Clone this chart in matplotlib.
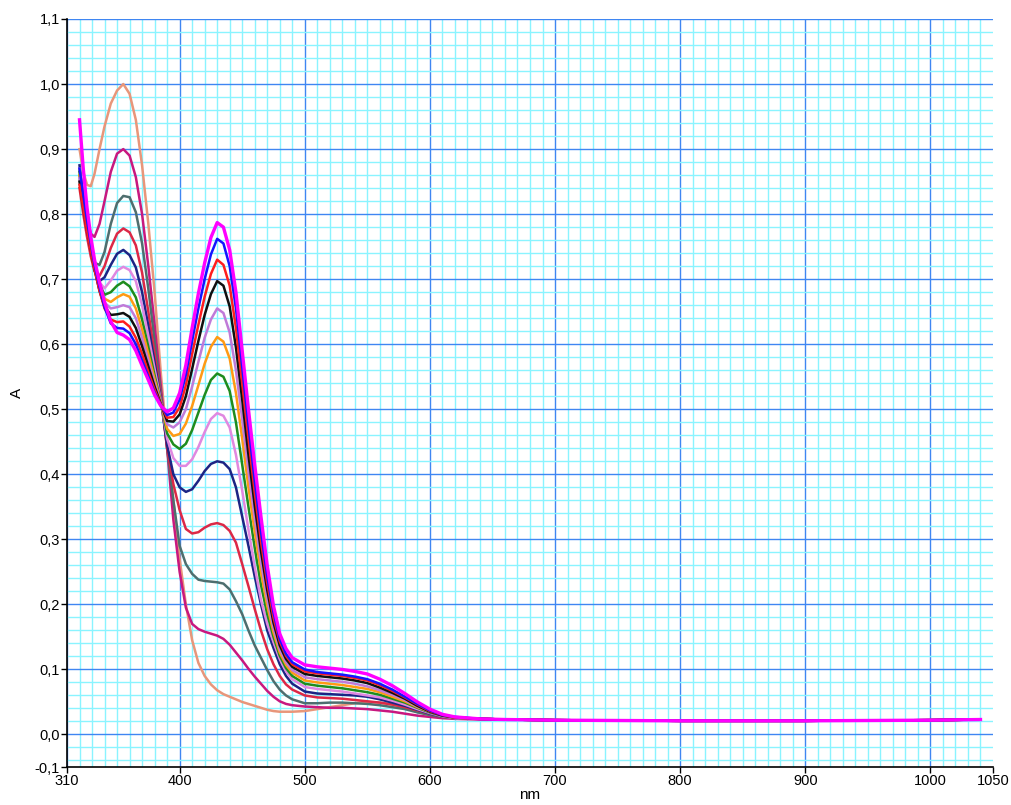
import numpy as np
import matplotlib
matplotlib.use("Agg")
import matplotlib.pyplot as plt

plt.rcParams['font.family'] = ['Liberation Sans', 'DejaVu Sans']

# wavelengths (nm) shared by all spectra
wl = [320, 323, 326, 329, 332, 336, 340, 345, 350, 355,
      360, 365, 370, 375, 380, 385, 390, 395, 400, 405, 410, 415, 420, 425, 430,
      435, 440, 445, 450, 455, 460, 465, 470, 475, 480, 485, 490,
      500, 510, 520, 530, 540, 550, 560, 570, 580, 590, 600, 610, 620,
      640, 660, 700, 800, 900, 1000, 1040]

a_salmon = [0.900, 0.865, 0.845, 0.843, 0.862, 0.900, 0.935, 0.970, 0.990, 1.000,
            0.985, 0.945, 0.875, 0.785, 0.680, 0.555, 0.450, 0.360, 0.270, 0.200, 0.145, 0.110, 0.090, 0.077, 0.068,
            0.062, 0.058, 0.054, 0.050, 0.047, 0.044, 0.041, 0.038, 0.036, 0.035, 0.035, 0.035,
            0.036, 0.039, 0.042, 0.045, 0.048, 0.050, 0.049, 0.046, 0.041, 0.035, 0.030, 0.027, 0.025,
            0.024, 0.023, 0.022, 0.021, 0.021, 0.022, 0.023]
a_mvred = [0.870, 0.830, 0.795, 0.770, 0.765, 0.785, 0.820, 0.865, 0.893, 0.900,
           0.890, 0.857, 0.800, 0.720, 0.630, 0.535, 0.440, 0.330, 0.250, 0.195, 0.170, 0.162, 0.158, 0.155, 0.152,
           0.147, 0.138, 0.126, 0.114, 0.101, 0.089, 0.078, 0.067, 0.058, 0.051, 0.047, 0.045,
           0.043, 0.042, 0.041, 0.041, 0.040, 0.039, 0.037, 0.035, 0.032, 0.029, 0.027, 0.025, 0.024,
           0.023, 0.023, 0.022, 0.021, 0.021, 0.022, 0.023]
a_slate = [0.860, 0.810, 0.773, 0.745, 0.725, 0.722, 0.742, 0.785, 0.817, 0.828,
           0.826, 0.803, 0.755, 0.685, 0.605, 0.525, 0.440, 0.360, 0.290, 0.262, 0.247, 0.238, 0.236, 0.235, 0.234,
           0.232, 0.223, 0.205, 0.185, 0.160, 0.137, 0.118, 0.099, 0.082, 0.069, 0.060, 0.054,
           0.048, 0.048, 0.049, 0.049, 0.048, 0.047, 0.045, 0.042, 0.039, 0.034, 0.030, 0.027, 0.025,
           0.024, 0.023, 0.022, 0.021, 0.021, 0.022, 0.023]
a_crimson = [0.840, 0.800, 0.765, 0.735, 0.712, 0.705, 0.720, 0.748, 0.770, 0.778,
             0.772, 0.752, 0.710, 0.650, 0.585, 0.518, 0.440, 0.385, 0.345, 0.316, 0.309, 0.311, 0.318, 0.323, 0.325,
             0.322, 0.313, 0.295, 0.262, 0.228, 0.193, 0.160, 0.131, 0.108, 0.090, 0.077, 0.069,
             0.060, 0.057, 0.056, 0.055, 0.053, 0.051, 0.049, 0.046, 0.042, 0.037, 0.032, 0.028, 0.025,
             0.024, 0.023, 0.022, 0.021, 0.021, 0.022, 0.023]
a_navy = [0.875, 0.825, 0.785, 0.752, 0.720, 0.697, 0.703, 0.722, 0.739, 0.745,
          0.737, 0.718, 0.680, 0.628, 0.572, 0.515, 0.445, 0.400, 0.380, 0.373, 0.377, 0.390, 0.405, 0.416, 0.420,
          0.418, 0.408, 0.380, 0.335, 0.290, 0.243, 0.200, 0.160, 0.133, 0.108, 0.090, 0.078,
          0.066, 0.063, 0.062, 0.061, 0.060, 0.058, 0.054, 0.049, 0.044, 0.038, 0.032, 0.028, 0.025,
          0.024, 0.023, 0.022, 0.021, 0.021, 0.022, 0.023]
a_plum = [0.870, 0.820, 0.783, 0.753, 0.722, 0.695, 0.686, 0.698, 0.713, 0.719,
          0.714, 0.697, 0.660, 0.613, 0.562, 0.513, 0.455, 0.425, 0.413, 0.413, 0.423, 0.442, 0.465, 0.485, 0.494,
          0.490, 0.472, 0.430, 0.375, 0.315, 0.258, 0.207, 0.170, 0.142, 0.116, 0.097, 0.085,
          0.073, 0.070, 0.068, 0.066, 0.063, 0.060, 0.057, 0.052, 0.046, 0.039, 0.033, 0.028, 0.025,
          0.024, 0.023, 0.022, 0.021, 0.021, 0.022, 0.023]
a_green = [0.865, 0.818, 0.781, 0.751, 0.720, 0.692, 0.676, 0.680, 0.690, 0.696,
           0.689, 0.672, 0.638, 0.596, 0.552, 0.511, 0.463, 0.446, 0.439, 0.447, 0.468, 0.495, 0.522, 0.545, 0.555,
           0.550, 0.528, 0.480, 0.415, 0.350, 0.287, 0.230, 0.185, 0.150, 0.121, 0.102, 0.090,
           0.078, 0.075, 0.073, 0.071, 0.068, 0.065, 0.061, 0.055, 0.049, 0.041, 0.034, 0.029, 0.026,
           0.024, 0.023, 0.022, 0.021, 0.021, 0.022, 0.023]
a_orange = [0.860, 0.815, 0.779, 0.749, 0.719, 0.688, 0.670, 0.665, 0.672, 0.677,
            0.673, 0.655, 0.623, 0.585, 0.546, 0.510, 0.470, 0.459, 0.462, 0.478, 0.505, 0.537, 0.570, 0.596, 0.611,
            0.604, 0.578, 0.525, 0.455, 0.380, 0.312, 0.250, 0.198, 0.157, 0.126, 0.107, 0.095,
            0.083, 0.080, 0.078, 0.076, 0.073, 0.070, 0.065, 0.058, 0.051, 0.042, 0.035, 0.029, 0.026,
            0.024, 0.023, 0.022, 0.021, 0.021, 0.022, 0.023]
a_orchid = [0.855, 0.812, 0.777, 0.747, 0.717, 0.685, 0.664, 0.655, 0.657, 0.660,
            0.657, 0.640, 0.610, 0.575, 0.540, 0.509, 0.477, 0.472, 0.480, 0.500, 0.535, 0.573, 0.610, 0.638, 0.655,
            0.648, 0.618, 0.560, 0.485, 0.405, 0.332, 0.265, 0.208, 0.164, 0.131, 0.111, 0.099,
            0.088, 0.085, 0.083, 0.081, 0.078, 0.074, 0.068, 0.061, 0.053, 0.043, 0.035, 0.029, 0.026,
            0.024, 0.023, 0.022, 0.021, 0.021, 0.022, 0.023]
a_black = [0.850, 0.810, 0.775, 0.745, 0.715, 0.682, 0.658, 0.645, 0.646, 0.648,
           0.642, 0.625, 0.597, 0.566, 0.535, 0.508, 0.482, 0.481, 0.492, 0.520, 0.562, 0.605, 0.645, 0.677, 0.697,
           0.690, 0.658, 0.595, 0.515, 0.430, 0.352, 0.282, 0.222, 0.172, 0.137, 0.116, 0.104,
           0.093, 0.090, 0.088, 0.086, 0.083, 0.079, 0.072, 0.064, 0.055, 0.044, 0.035, 0.029, 0.026,
           0.024, 0.023, 0.022, 0.021, 0.021, 0.022, 0.023]
a_red = [0.845, 0.810, 0.775, 0.745, 0.715, 0.682, 0.655, 0.638, 0.634, 0.635,
         0.627, 0.610, 0.585, 0.557, 0.530, 0.507, 0.487, 0.488, 0.503, 0.537, 0.585, 0.630, 0.673, 0.708, 0.730,
         0.722, 0.690, 0.625, 0.540, 0.455, 0.372, 0.297, 0.233, 0.180, 0.143, 0.121, 0.108,
         0.097, 0.094, 0.092, 0.090, 0.087, 0.083, 0.076, 0.067, 0.057, 0.046, 0.036, 0.030, 0.026,
         0.024, 0.023, 0.022, 0.021, 0.021, 0.022, 0.023]
a_blue = [0.870, 0.830, 0.790, 0.755, 0.722, 0.688, 0.657, 0.632, 0.625, 0.624,
          0.617, 0.600, 0.575, 0.550, 0.526, 0.506, 0.491, 0.495, 0.515, 0.553, 0.605, 0.655, 0.700, 0.738, 0.762,
          0.755, 0.720, 0.655, 0.565, 0.475, 0.390, 0.312, 0.243, 0.188, 0.147, 0.124, 0.111,
          0.100, 0.096, 0.094, 0.092, 0.089, 0.085, 0.078, 0.069, 0.058, 0.047, 0.037, 0.030, 0.027,
          0.024, 0.023, 0.022, 0.021, 0.021, 0.022, 0.023]
a_magenta = [0.945, 0.870, 0.810, 0.765, 0.730, 0.695, 0.665, 0.635, 0.618, 0.614,
             0.607, 0.590, 0.567, 0.545, 0.522, 0.505, 0.496, 0.502, 0.525, 0.568, 0.625, 0.678, 0.725, 0.764, 0.787,
             0.780, 0.745, 0.680, 0.590, 0.500, 0.415, 0.335, 0.260, 0.198, 0.155, 0.132, 0.118,
             0.107, 0.104, 0.102, 0.100, 0.097, 0.093, 0.085, 0.075, 0.063, 0.050, 0.039, 0.031, 0.027,
             0.024, 0.023, 0.022, 0.021, 0.021, 0.022, 0.023]

# drawn in this order, magenta ends up on top
spectra = [
    (a_salmon, '#e8967a', 1.8),
    (a_mvred, '#c8187f', 1.8),
    (a_slate, '#4e6e6e', 1.8),
    (a_crimson, '#dc2846', 1.8),
    (a_navy, '#1c2484', 1.8),
    (a_plum, '#e088e0', 1.8),
    (a_green, '#1e8c1e', 1.8),
    (a_orange, '#ff9a14', 1.8),
    (a_orchid, '#c07ad8', 1.8),
    (a_black, '#101010', 1.8),
    (a_red, '#ff1e1e', 1.8),
    (a_blue, '#1414ff', 1.8),
    (a_magenta, '#ff00ff', 2.4),
]

x_ticks = [310, 400, 500, 600, 700, 800, 900, 1000, 1050]
y_ticks = [-0.05, 0.0, 0.1, 0.2, 0.3, 0.4, 0.5, 0.6, 0.7, 0.8, 0.9, 1.0, 1.1]
y_labels = ['-0,1', '0,0', '0,1', '0,2', '0,3', '0,4', '0,5', '0,6', '0,7', '0,8', '0,9', '1,0', '1,1']

fig = plt.figure(figsize=(10.11, 8.05), dpi=100)
ax = fig.add_axes([67 / 1011, 38 / 805, 926 / 1011, 748 / 805])

for vals, col, lw in spectra:
    ax.plot(wl, vals, color=col, lw=lw, solid_joinstyle='round')

ax.set_xlim(310, 1050)
ax.set_ylim(-0.05, 1.1)

ax.set_xticks(x_ticks)
ax.set_xticklabels([str(t) for t in x_ticks])
ax.set_xticks(np.arange(320, 1050, 10), minor=True)
ax.set_yticks(y_ticks)
ax.set_yticklabels(y_labels)
ax.set_yticks(np.arange(-0.04, 1.1, 0.02), minor=True)

ax.grid(True, which='minor', color='#8af4ff', lw=1.0)
ax.grid(True, which='major', color='#3f86f2', lw=1.0)
ax.set_axisbelow(True)
ax.xaxis.get_major_ticks()[-1].gridline.set_visible(False)
ax.yaxis.get_major_ticks()[0].gridline.set_visible(False)

ax.tick_params(which='major', direction='out', length=4, width=1, color='black',
               labelsize=10.5, pad=1)
ax.tick_params(which='minor', length=0)

for s in ['top', 'right']:
    ax.spines[s].set_visible(False)
for s in ['left', 'bottom']:
    ax.spines[s].set_color('black')
    ax.spines[s].set_linewidth(1.2)

ax.set_xlabel('nm', fontsize=11, labelpad=0)
ax.set_ylabel('A', fontsize=11, labelpad=8)

fig.savefig('out.png', dpi=100)
